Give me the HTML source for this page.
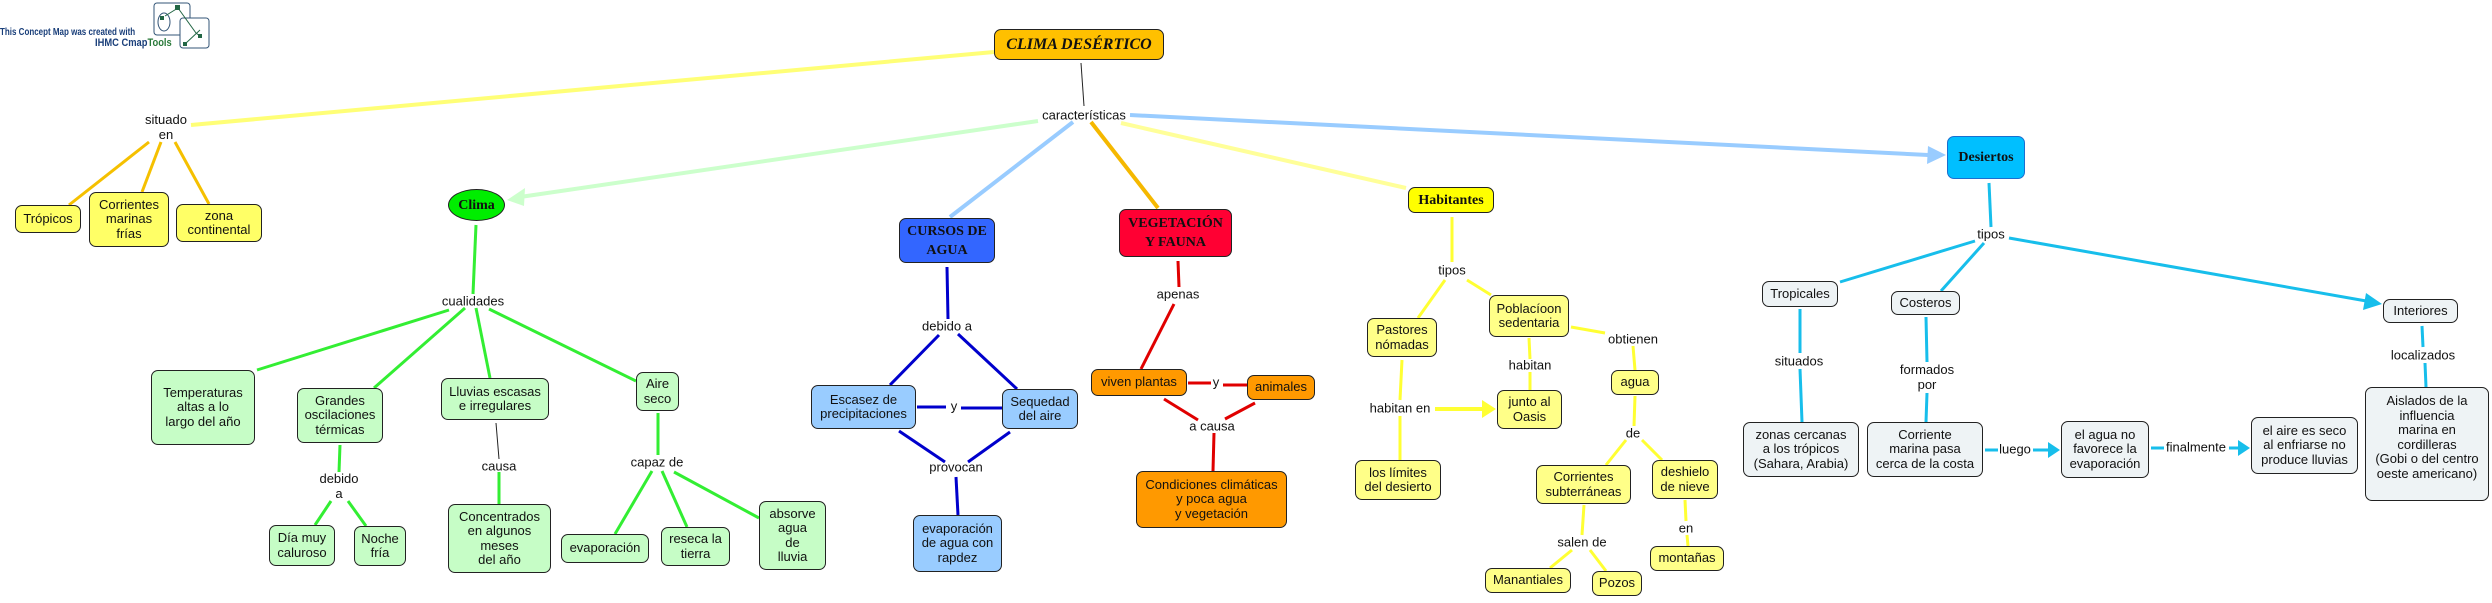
<!DOCTYPE html>
<html><head><meta charset="utf-8">
<style>
html,body{margin:0;padding:0;background:#fff;}
#c{position:relative;width:2492px;height:603px;overflow:hidden;background:#fff;font-family:"Liberation Sans","DejaVu Sans",sans-serif;font-size:13px;color:#111;}
svg{position:absolute;left:0;top:0;}
.n{position:absolute;box-sizing:border-box;border:1px solid #222;border-radius:7px;display:flex;align-items:center;justify-content:center;text-align:center;line-height:14.5px;font-size:13px;}
.t{font-family:"Liberation Serif",serif;font-weight:bold;font-size:14px;line-height:19px;}
.l{position:absolute;transform:translate(-50%,-50%);text-align:center;line-height:15px;font-size:13px;white-space:nowrap;}
.g{background:#C6FDC6}.y{background:#FFFF88}.b{background:#99CCFF}.o{background:#FF9900}.s{background:#EEF3F5}.yy{background:#FFFF66}
</style></head><body><div id="c">
<svg width="2492" height="603" viewBox="0 0 2492 603">
<defs>
<marker id="ay" markerWidth="4" markerHeight="4" refX="2.5" refY="2" orient="auto" markerUnits="strokeWidth"><path d="M0,0 L3,2 L0,4z" fill="#FFFF33"/></marker>
</defs>
<g stroke-linecap="butt" fill="none">
<!-- top level -->
<line x1="191" y1="125" x2="994" y2="52" stroke="#FFFF77" stroke-width="4"/>
<line x1="1081" y1="63" x2="1084" y2="106" stroke="#222" stroke-width="1"/>
<line x1="1038" y1="121" x2="520" y2="197" stroke="#CCFFCC" stroke-width="4"/>
<polygon points="507,200 525,188 524,206" fill="#CCFFCC"/>
<line x1="1073" y1="122" x2="950" y2="217" stroke="#99CCFF" stroke-width="4"/>
<line x1="1091" y1="122" x2="1158" y2="208" stroke="#F5B800" stroke-width="4"/>
<line x1="1121" y1="123" x2="1406" y2="188" stroke="#FFFF99" stroke-width="4"/>
<line x1="1130" y1="115" x2="1928" y2="155" stroke="#99CCFF" stroke-width="4"/>
<polygon points="1946,155 1928,146 1927,164" fill="#99CCFF"/>
<!-- situado -->
<g stroke="#F5C000" stroke-width="3">
<line x1="149" y1="142" x2="69" y2="205"/><line x1="161" y1="142" x2="142" y2="192"/><line x1="175" y1="142" x2="209" y2="204"/>
</g>
<!-- clima -->
<g stroke="#33EE33" stroke-width="3">
<line x1="476" y1="225" x2="473" y2="294"/>
<line x1="449" y1="310" x2="257" y2="370"/><line x1="465" y1="308" x2="374" y2="388"/>
<line x1="476" y1="308" x2="490" y2="378"/><line x1="489" y1="309" x2="636" y2="381"/>
<line x1="340" y1="445" x2="339" y2="472"/>
<line x1="331" y1="501" x2="315" y2="525"/><line x1="348" y1="501" x2="366" y2="526"/>
<line x1="499" y1="472" x2="499" y2="504"/>
<line x1="658" y1="413" x2="658" y2="455"/>
<line x1="652" y1="471" x2="615" y2="534"/><line x1="662" y1="471" x2="687" y2="527"/><line x1="674" y1="472" x2="759" y2="518"/>
</g>
<line x1="496" y1="423" x2="499" y2="459" stroke="#222" stroke-width="1"/>
<!-- cursos -->
<g stroke="#0000CC" stroke-width="3">
<line x1="947" y1="267" x2="948" y2="319"/>
<line x1="939" y1="335" x2="890" y2="385"/><line x1="958" y1="334" x2="1017" y2="389"/>
<line x1="917" y1="407" x2="946" y2="407"/><line x1="961" y1="408" x2="1002" y2="408"/>
<line x1="899" y1="431" x2="945" y2="462"/><line x1="1010" y1="432" x2="968" y2="462"/>
<line x1="956" y1="477" x2="958" y2="515"/>
</g>
<!-- veg -->
<g stroke="#E00000" stroke-width="3">
<line x1="1178" y1="261" x2="1179" y2="287"/>
<line x1="1174" y1="304" x2="1141" y2="369"/>
<line x1="1188" y1="383" x2="1211" y2="383"/><line x1="1223" y1="385" x2="1247" y2="385"/>
<line x1="1164" y1="399" x2="1198" y2="420"/><line x1="1255" y1="403" x2="1225" y2="419"/>
<line x1="1214" y1="433" x2="1213" y2="471"/>
</g>
<!-- habitantes -->
<g stroke="#FFFF33" stroke-width="3">
<line x1="1452" y1="217" x2="1452" y2="262"/>
<line x1="1445" y1="280" x2="1418" y2="318"/><line x1="1467" y1="280" x2="1491" y2="295"/>
<line x1="1402" y1="360" x2="1400" y2="400"/><line x1="1400" y1="416" x2="1400" y2="460"/>
<line x1="1435" y1="409" x2="1484" y2="409" stroke-width="4"/>
<line x1="1529" y1="338" x2="1530" y2="359"/><line x1="1530" y1="372" x2="1530" y2="390"/>
<line x1="1571" y1="327" x2="1605" y2="333"/><line x1="1633" y1="346" x2="1635" y2="370"/>
<line x1="1635" y1="396" x2="1634" y2="426"/>
<line x1="1626" y1="440" x2="1606" y2="465"/><line x1="1642" y1="440" x2="1662" y2="460"/>
<line x1="1584" y1="505" x2="1582" y2="535"/>
<line x1="1572" y1="550" x2="1550" y2="568"/><line x1="1590" y1="550" x2="1606" y2="571"/>
<line x1="1685" y1="500" x2="1686" y2="521"/><line x1="1687" y1="535" x2="1688" y2="546"/>
</g>
<polygon points="1496,409 1482,400 1482,418" fill="#FFFF33"/>
<!-- desiertos -->
<g stroke="#17BEEB" stroke-width="3">
<line x1="1989" y1="183" x2="1991" y2="227"/>
<line x1="1975" y1="241" x2="1840" y2="282"/><line x1="1984" y1="243" x2="1941" y2="291"/>
<line x1="2009" y1="238" x2="2372" y2="302"/>
<line x1="1800" y1="309" x2="1800" y2="353"/><line x1="1800" y1="369" x2="1802" y2="422"/>
<line x1="1926" y1="317" x2="1927" y2="362"/><line x1="1927" y1="393" x2="1926" y2="422"/>
<line x1="1985" y1="450" x2="1998" y2="450"/><line x1="2033" y1="450" x2="2050" y2="450"/>
<line x1="2151" y1="448" x2="2164" y2="448"/><line x1="2229" y1="448" x2="2240" y2="448"/>
<line x1="2422" y1="326" x2="2423" y2="347"/><line x1="2425" y1="363" x2="2426" y2="387"/>
</g>
<polygon points="2382,304 2366,293 2363,310" fill="#17BEEB"/>
<polygon points="2060,450 2048,442 2048,458" fill="#17BEEB"/>
<polygon points="2250,448 2238,440 2238,456" fill="#17BEEB"/>
</g>
<!-- logo icon -->
<g fill="none" stroke="#335577" stroke-width="1">
<rect x="154" y="3" width="36" height="32" rx="3" fill="#fff"/>
<rect x="180" y="18" width="29" height="30" rx="3" fill="#fff"/>
<ellipse cx="164" cy="22" rx="6" ry="9"/>
<path d="M165,16 L178,8 L196,33 L200,36 M185,44 L200,30" stroke="#226644"/>
</g>
<rect x="175" y="5" width="5" height="5" fill="#226644"/>
<rect x="160" y="16" width="4" height="4" fill="#226644"/>
<rect x="198" y="34" width="4" height="4" fill="#226644"/>
<rect x="183" y="42" width="4" height="4" fill="#226644"/>
</svg>
<div style="position:absolute;left:0;top:27px;font-size:10px;color:#1a3f7a;font-weight:bold;transform:scaleX(0.8);transform-origin:left;white-space:nowrap">This Concept Map was created with</div>
<div style="position:absolute;left:95px;top:37px;font-size:11px;color:#1a3f7a;font-weight:bold;transform:scaleX(0.85);transform-origin:left;white-space:nowrap">IHMC Cmap<span style="color:#2a7a3a">Tools</span></div>

<!-- top nodes -->
<div class="n t" style="left:994px;top:29px;width:170px;height:31px;background:#FFC000;font-style:italic;font-size:16px">CLIMA DESÉRTICO</div>
<div class="l" style="left:1084px;top:115px">características</div>

<div class="l" style="left:166px;top:127px">situado<br>en</div>
<div class="n yy" style="left:15px;top:205px;width:66px;height:28px">Trópicos</div>
<div class="n yy" style="left:89px;top:192px;width:80px;height:55px">Corrientes<br>marinas<br>frías</div>
<div class="n yy" style="left:176px;top:204px;width:86px;height:38px">zona<br>continental</div>

<div class="n t" style="left:448px;top:189px;width:57px;height:32px;border-radius:50%;background:#00EE00">Clima</div>
<div class="l" style="left:473px;top:301px">cualidades</div>
<div class="n g" style="left:151px;top:370px;width:104px;height:75px">Temperaturas<br>altas a lo<br>largo del año</div>
<div class="n g" style="left:297px;top:388px;width:86px;height:55px">Grandes<br>oscilaciones<br>térmicas</div>
<div class="n g" style="left:441px;top:378px;width:108px;height:42px">Lluvias escasas<br>e irregulares</div>
<div class="n g" style="left:636px;top:372px;width:43px;height:39px">Aire<br>seco</div>
<div class="l" style="left:339px;top:486px">debido<br>a</div>
<div class="n g" style="left:269px;top:525px;width:66px;height:41px">Día muy<br>caluroso</div>
<div class="n g" style="left:354px;top:526px;width:52px;height:40px">Noche<br>fría</div>
<div class="l" style="left:499px;top:466px">causa</div>
<div class="n g" style="left:448px;top:504px;width:103px;height:69px">Concentrados<br>en algunos<br>meses<br>del año</div>
<div class="l" style="left:657px;top:462px">capaz de</div>
<div class="n g" style="left:561px;top:534px;width:88px;height:29px">evaporación</div>
<div class="n g" style="left:661px;top:527px;width:69px;height:39px">reseca la<br>tierra</div>
<div class="n g" style="left:759px;top:501px;width:67px;height:69px">absorve<br>agua<br>de<br>lluvia</div>

<div class="n t" style="left:899px;top:218px;width:96px;height:45px;background:#3366FF">CURSOS DE<br>AGUA</div>
<div class="l" style="left:947px;top:326px">debido a</div>
<div class="n b" style="left:811px;top:385px;width:105px;height:44px">Escasez de<br>precipitaciones</div>
<div class="n b" style="left:1002px;top:389px;width:76px;height:40px">Sequedad<br>del aire</div>
<div class="l" style="left:954px;top:406px">y</div>
<div class="l" style="left:956px;top:467px">provocan</div>
<div class="n b" style="left:913px;top:515px;width:89px;height:57px">evaporación<br>de agua con<br>rapdez</div>

<div class="n t" style="left:1119px;top:209px;width:113px;height:48px;background:#FF0033">VEGETACIÓN<br>Y FAUNA</div>
<div class="l" style="left:1178px;top:294px">apenas</div>
<div class="n o" style="left:1091px;top:369px;width:96px;height:27px">viven plantas</div>
<div class="n o" style="left:1247px;top:375px;width:68px;height:25px">animales</div>
<div class="l" style="left:1216px;top:382px">y</div>
<div class="l" style="left:1212px;top:426px">a causa</div>
<div class="n o" style="left:1136px;top:471px;width:151px;height:57px">Condiciones climáticas<br>y poca agua<br>y vegetación</div>

<div class="n t" style="left:1408px;top:187px;width:86px;height:26px;background:#FFFF00">Habitantes</div>
<div class="l" style="left:1452px;top:270px">tipos</div>
<div class="n y" style="left:1367px;top:318px;width:70px;height:39px">Pastores<br>nómadas</div>
<div class="n y" style="left:1489px;top:295px;width:80px;height:42px">Poblacíoon<br>sedentaria</div>
<div class="l" style="left:1400px;top:408px">habitan en</div>
<div class="n y" style="left:1355px;top:460px;width:86px;height:40px">los límites<br>del desierto</div>
<div class="l" style="left:1530px;top:365px">habitan</div>
<div class="n y" style="left:1497px;top:390px;width:65px;height:39px">junto al<br>Oasis</div>
<div class="l" style="left:1633px;top:339px">obtienen</div>
<div class="n y" style="left:1611px;top:370px;width:48px;height:25px">agua</div>
<div class="l" style="left:1633px;top:433px">de</div>
<div class="n y" style="left:1536px;top:465px;width:95px;height:39px">Corrientes<br>subterráneas</div>
<div class="n y" style="left:1652px;top:460px;width:66px;height:39px">deshielo<br>de nieve</div>
<div class="l" style="left:1582px;top:542px">salen de</div>
<div class="n y" style="left:1485px;top:568px;width:86px;height:25px">Manantiales</div>
<div class="n y" style="left:1592px;top:571px;width:50px;height:25px">Pozos</div>
<div class="l" style="left:1686px;top:528px">en</div>
<div class="n y" style="left:1650px;top:546px;width:74px;height:25px">montañas</div>

<div class="n t" style="left:1947px;top:136px;width:78px;height:43px;background:#00BFFF;border-color:#1a6fd0">Desiertos</div>
<div class="l" style="left:1991px;top:234px">tipos</div>
<div class="n s" style="left:1762px;top:281px;width:76px;height:26px">Tropicales</div>
<div class="n s" style="left:1891px;top:291px;width:69px;height:24px">Costeros</div>
<div class="n s" style="left:2383px;top:299px;width:75px;height:24px">Interiores</div>
<div class="l" style="left:1799px;top:361px">situados</div>
<div class="n s" style="left:1743px;top:422px;width:116px;height:55px">zonas cercanas<br>a los trópicos<br>(Sahara, Arabia)</div>
<div class="l" style="left:1927px;top:377px">formados<br>por</div>
<div class="n s" style="left:1867px;top:422px;width:116px;height:55px">Corriente<br>marina pasa<br>cerca de la costa</div>
<div class="l" style="left:2015px;top:449px">luego</div>
<div class="n s" style="left:2061px;top:421px;width:88px;height:57px">el agua no<br>favorece la<br>evaporación</div>
<div class="l" style="left:2196px;top:447px">finalmente</div>
<div class="n s" style="left:2251px;top:417px;width:107px;height:57px">el aire es seco<br>al enfriarse no<br>produce lluvias</div>
<div class="l" style="left:2423px;top:355px">localizados</div>
<div class="n s" style="left:2365px;top:387px;width:124px;height:114px;align-items:flex-start;padding-top:6px">Aislados de la<br>influencia<br>marina en<br>cordilleras<br>(Gobi o del centro<br>oeste americano)</div>
</div></body></html>
